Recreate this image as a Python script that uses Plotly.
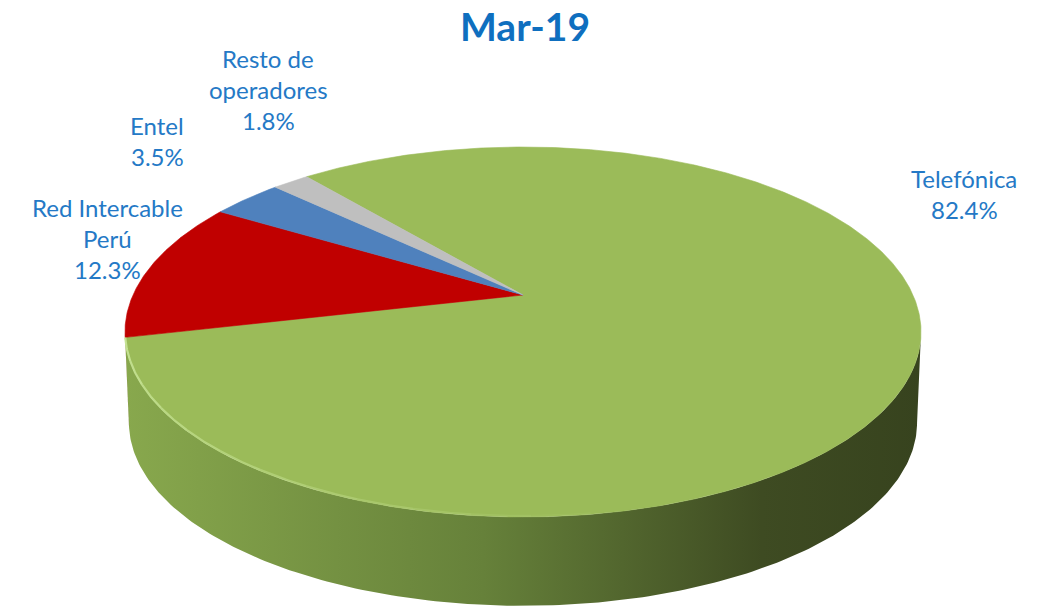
import numpy as np
import plotly.graph_objects as go

# ---------------- data ----------------
labels = ["Telefónica", "Red Intercable<br>Perú", "Entel", "Resto de<br>operadores"]
shares = [82.4, 12.3, 3.5, 1.8]
pct_text = ["82.4%", "12.3%", "3.5%", "1.8%"]
title_text = "Mar-19"

# ---------------- styles ----------------
top_colors = ["#9BBB59", "#C00000", "#4F81BD", "#BFBFBF"]
side_scales = [
    [[0, "#88A84D"], [0.45, "#66813A"], [0.8, "#3E4B22"], [1, "#37431E"]],
    [[0, "#8E0000"], [1, "#600000"]],
    [[0, "#3A6190"], [1, "#2A4A70"]],
    [[0, "#9A9A9A"], [1, "#707070"]],
]
label_pos = [(964, 178), (107, 207), (157, 125), (268, 58)]  # centre x, first-line y
LINE_STEP = 31
LABEL_COLOR = "#2479C6"
TITLE_COLOR = "#0F6FBF"
FONT = "Lato"

# pie geometry (screen px): perspective-projected disc
CX, CY = 523, 295
A, B, K = 390.0, 177.6, 0.2
DEPTH = 91
START = 320.2  # clock angle (deg) where the first slice starts


def proj(clock_deg, dy=0.0, shrink=1.0):
    t = np.radians(90.0 - np.asarray(clock_deg, dtype=float))
    u, v = np.cos(t), np.sin(t)
    w = 1 + K * v
    x = CX + shrink * A * u / w
    y = CY - shrink * B * v / w + dy
    return x, y


fig = go.Figure()

# slice angular intervals
bounds = []
c = START
for s in shares:
    span = 360.0 * s / sum(shares)
    bounds.append((c, c + span))
    c += span

# visible front side range (clock angles)
sil = np.degrees(np.arcsin(K))
vis_lo, vis_hi = 90 + sil, 270 - sil

# side walls
for i, (c0, c1) in enumerate(bounds):
    for off in (0, 360, 720):
        a = max(c0, vis_lo + off)
        b = min(c1, vis_hi + off)
        if b <= a:
            continue
        cc = np.linspace(a, b, 200)
        xt, yt = proj(cc)
        xb, yb = proj(cc[::-1], dy=DEPTH, shrink=0.99)
        fig.add_trace(go.Scatter(
            x=np.concatenate([xt, xb, xt[:1]]),
            y=np.concatenate([yt, yb, yt[:1]]),
            mode="lines", fill="toself", line=dict(width=0),
            fillgradient=dict(type="horizontal", colorscale=side_scales[i]),
            hoverinfo="skip", showlegend=False))

# top faces
for i, (c0, c1) in enumerate(bounds):
    cc = np.linspace(c0, c1, max(int((c1 - c0) * 3), 10))
    xa, ya = proj(cc)
    fig.add_trace(go.Scatter(
        x=np.concatenate([[CX], xa, [CX]]),
        y=np.concatenate([[CY], ya, [CY]]),
        mode="lines", fill="toself", fillcolor=top_colors[i],
        line=dict(width=0.6, color=top_colors[i]),
        hoverinfo="skip", showlegend=False))

# rim highlight along front-left edge, fading toward the front
edges = np.linspace(256.5, 172, 13)
for j in range(len(edges) - 1):
    hc = np.linspace(edges[j], edges[j + 1], 20)
    hx, hy = proj(hc)
    fig.add_trace(go.Scatter(x=hx, y=hy - 1, mode="lines",
                             line=dict(color="#C8E596", width=2.2),
                             opacity=0.9 * (1 - j / (len(edges) - 1)),
                             hoverinfo="skip", showlegend=False))

# labels
annotations = []
for lab, pct, (lx, ly) in zip(labels, pct_text, label_pos):
    lines = lab.split("<br>") + [pct]
    for j, ln in enumerate(lines):
        annotations.append(dict(x=lx, y=ly + j * LINE_STEP, text=ln, showarrow=False,
                                xref="x", yref="y", xanchor="center", yanchor="middle",
                                font=dict(family=FONT, size=24, color=LABEL_COLOR)))
annotations.append(dict(x=525, y=26, text="<b>" + title_text + "</b>", showarrow=False,
                        xref="x", yref="y", xanchor="center", yanchor="middle",
                        font=dict(family="Lato", size=39, color=TITLE_COLOR)))

fig.update_layout(
    width=1048, height=610, autosize=False,
    margin=dict(l=0, r=0, t=0, b=0),
    paper_bgcolor="white", plot_bgcolor="white",
    xaxis=dict(range=[0, 1048], visible=False, fixedrange=True),
    yaxis=dict(range=[610, 0], visible=False, fixedrange=True),
    annotations=annotations,
)

fig.write_html("out.html", config={"displayModeBar": False},
               post_script="document.body.style.margin='0';document.body.style.overflow='hidden';")
